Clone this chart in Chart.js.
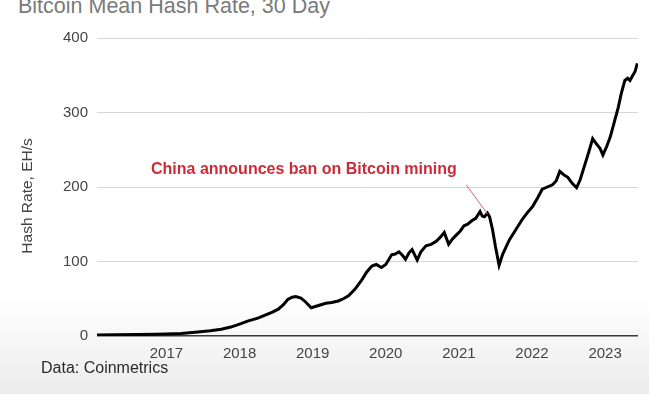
<!DOCTYPE html>
<html>
<head>
<meta charset="utf-8">
<script src="https://cdn.jsdelivr.net/npm/chart.js@4"></script>
<style>
  html, body { margin: 0; padding: 0; }
  body {
    width: 649px; height: 394px; position: relative; overflow: hidden;
    background: linear-gradient(to bottom, #ffffff 0px, #ffffff 295px, #ececec 394px);
    font-family: Arial, "Liberation Sans", sans-serif;
  }
  #title {
    position: absolute; left: 18px; top: -4px;
    font-size: 21.5px; line-height: 21.5px; color: #7a7a7a; white-space: nowrap;
  }
  #source {
    position: absolute; left: 41px; top: 360px;
    font-size: 16px; line-height: 16px; color: #2a2a2a; white-space: nowrap;
  }
  canvas { position: absolute; left: 0; top: 0; }
</style>
</head>
<body>
<div id="title">Bitcoin Mean Hash Rate, 30 Day</div>
<canvas id="chart" width="649" height="394"></canvas>
<div id="source">Data: Coinmetrics</div>
<script>
// decimal years and 30-day mean hash rate (EH/s)
const years = [
  2016.05, 2016.30, 2016.60, 2016.85, 2017.00, 2017.20, 2017.43, 2017.60, 2017.75, 2017.88,
  2018.00, 2018.11, 2018.25, 2018.35, 2018.45, 2018.53, 2018.60, 2018.66, 2018.72, 2018.77,
  2018.84, 2018.90, 2018.98, 2019.08, 2019.18, 2019.26, 2019.35, 2019.42, 2019.49, 2019.58,
  2019.67, 2019.74, 2019.81, 2019.87, 2019.94, 2020.00, 2020.08, 2020.13, 2020.18, 2020.23,
  2020.27, 2020.32, 2020.36, 2020.40, 2020.43, 2020.48, 2020.55, 2020.62, 2020.69, 2020.75,
  2020.80, 2020.86, 2020.91, 2020.96, 2021.02, 2021.07, 2021.12, 2021.18, 2021.23, 2021.29,
  2021.32, 2021.35, 2021.39, 2021.42, 2021.46, 2021.50, 2021.55, 2021.60, 2021.69, 2021.78,
  2021.87, 2021.94, 2022.01, 2022.08, 2022.14, 2022.21, 2022.28, 2022.33, 2022.38, 2022.44,
  2022.49, 2022.55, 2022.61, 2022.66, 2022.72, 2022.78, 2022.83, 2022.88, 2022.93, 2022.97,
  2023.02, 2023.07, 2023.12, 2023.18, 2023.22, 2023.27, 2023.31, 2023.34, 2023.38, 2023.41,
  2023.44
];
const hashRate = [
  1.5, 1.7, 1.9, 2.2, 2.6, 3.5, 5.5, 7, 9, 12,
  16, 20, 24, 28, 32, 36, 42, 49, 52, 53,
  51, 46, 38, 41, 44, 45, 47, 50, 54, 63,
  75, 86, 94, 96, 92, 96, 109, 110, 113, 108,
  103, 112, 116, 108, 102, 113, 121, 123, 127, 133,
  139, 123, 130, 135, 141, 148, 150, 155, 158, 167,
  161, 160, 165, 160, 143, 120, 95, 110, 129, 143,
  157, 166, 174, 186, 197, 200, 203, 208, 221, 216,
  213, 205, 199, 210, 229, 248, 265, 258, 252, 243,
  254, 267, 285, 307, 325, 343, 346, 343, 350, 355,
  366
];
const yearTicks = [2017, 2018, 2019, 2020, 2021, 2022, 2023];
const yTicks = [0, 100, 200, 300, 400];
const yTitle = "Hash Rate, EH/s";

const annotationText = "China announces ban on Bitcoin mining";
const annotationLabel = [2018.88, 224];   // year, EH/s of text centre
const annotationFrom = [2021.10, 203];
const annotationTo = [2021.39, 164];

const annotationPlugin = {
  id: "banNote",
  afterDatasetsDraw(chart) {
    const { ctx, scales } = chart;
    const x = scales.x, y = scales.y;
    ctx.save();
    ctx.strokeStyle = "#d9646c";
    ctx.lineWidth = 1;
    ctx.beginPath();
    ctx.moveTo(x.getPixelForValue(annotationFrom[0]), y.getPixelForValue(annotationFrom[1]));
    ctx.lineTo(x.getPixelForValue(annotationTo[0]), y.getPixelForValue(annotationTo[1]));
    ctx.stroke();
    ctx.fillStyle = "#cf2a38";
    ctx.font = "bold 16px Arial, 'Liberation Sans', sans-serif";
    ctx.textAlign = "center";
    ctx.textBaseline = "middle";
    ctx.fillText(annotationText,
      x.getPixelForValue(annotationLabel[0]), y.getPixelForValue(annotationLabel[1]));

    // y axis title, a little below the middle as in the original
    ctx.translate(28, y.getPixelForValue(188));
    ctx.rotate(-Math.PI / 2);
    ctx.fillStyle = "#444444";
    ctx.font = "15.5px Arial, 'Liberation Sans', sans-serif";
    ctx.fillText(yTitle, 0, 0);
    ctx.restore();
  }
};

new Chart(document.getElementById("chart"), {
  type: "line",
  data: {
    datasets: [{
      data: years.map((yr, i) => ({ x: yr, y: hashRate[i] })),
      borderColor: "#000000",
      borderWidth: 3,
      pointRadius: 0,
      tension: 0,
      fill: false,
    }],
  },
  options: {
    responsive: false,
    animation: false,
    devicePixelRatio: 1,
    layout: { padding: { top: 38, right: 11, left: 0, bottom: 0 } },
    plugins: {
      legend: { display: false },
      tooltip: { enabled: false },
    },
    scales: {
      x: {
        type: "linear",
        min: 2016.05,
        max: 2023.45,
        afterBuildTicks: (axis) => { axis.ticks = yearTicks.map((v) => ({ value: v })); },
        afterFit: (axis) => { axis.height = 58; },
        grid: { display: false, drawTicks: false },
        border: { display: false },
        ticks: {
          color: "#444444",
          font: { family: "Arial", size: 15 },
          padding: 9,
          maxRotation: 0,
          autoSkip: false,
          callback: (v) => String(v),
        },
      },
      y: {
        min: 0,
        max: 400,
        afterBuildTicks: (axis) => { axis.ticks = yTicks.map((v) => ({ value: v })); },
        afterFit: (axis) => { axis.width = 97; },
        border: { display: false },
        grid: {
          drawTicks: false,
          color: (c) => (c.tick && c.tick.value === 0 ? "#3a3a3a" : "#d6d6d6"),
          lineWidth: (c) => (c.tick && c.tick.value === 0 ? 1.5 : 1),
        },
        ticks: {
          color: "#444444",
          font: { family: "Arial", size: 15 },
          padding: 9,
        },
      },
    },
  },
  plugins: [annotationPlugin],
});
</script>
</body>
</html>
